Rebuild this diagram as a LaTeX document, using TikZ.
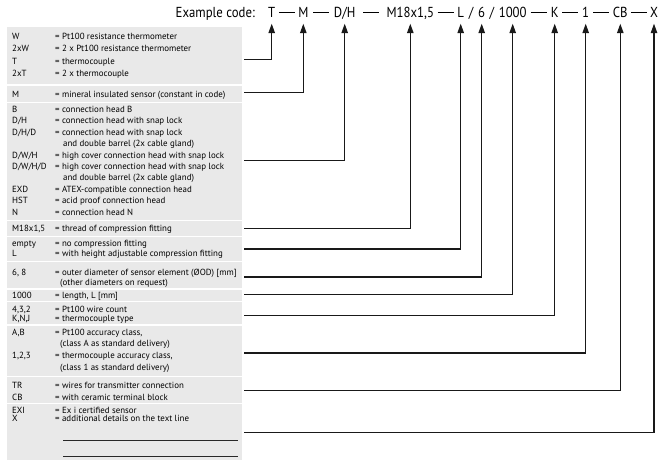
\documentclass[tikz,border=0pt]{standalone}
\usepackage{fontspec}
\setmainfont{PT Sans}
\newfontfamily\codefont{PT Sans}[FakeStretch=0.88]
\usetikzlibrary{arrows.meta,calc}
\definecolor{boxgray}{RGB}{233,233,233}
\definecolor{lineblk}{RGB}{25,25,25}
\definecolor{blankline}{RGB}{40,40,40}
\newcommand\krow[4]{%
  \node[key] (#1c) at (12,#2) {#3};
  \node[key] (#1d) at (55,#2) {#4};}
\newcommand\kcont[3]{\node[key] (#1) at (#2) {#3};}
\newcommand\cdash{\rule[4.6pt]{16pt}{1.1pt}}
\begin{document}
\begin{tikzpicture}[x=1pt,y=-1pt,
  code/.style={font=\codefont\fontsize{14.5}{18}\selectfont, inner sep=0pt, text depth=0pt, anchor=base},
  sepmark/.style={font=\codefont\fontsize{14.5}{18}\selectfont, inner sep=0pt, anchor=base},
  key/.style={font=\fontsize{8.9}{10}\selectfont, inner sep=0pt, anchor=base west},
  conn/.style={draw=lineblk, line width=1.1pt, -{Triangle[length=9.5pt,width=6.5pt]}, shorten >=6pt},
  gap/.style={draw=white, line width=1.5pt},
]
\useasboundingbox (0,0) rectangle (664,471);
\fill[white] (0,0) rectangle (664,471);
% grey key box
\fill[boxgray] (7,27) rectangle (242,460);
\foreach \yy in {85,102.5,220.5,236.5,261.5,289,301.7,325,376.7,403.3}
  \draw[gap] (7,\yy) -- (242,\yy);
% code line
\node[code, anchor=base east] (ex) at (255,17.5) {Example code:};
\node[code] (cT) at (271.7,17.5) {T};
\node[code] (cM) at (303.3,17.5) {M};
\node[code] (cDH) at (344.7,17.5) {D/H};
\node[code] (cMt) at (410.3,17.5) {M18x1,5};
\node[code] (cL) at (460.7,17.5) {L};
\node[code] (c6) at (481.7,17.5) {6};
\node[code] (cLen) at (512.7,17.5) {1000};
\node[code] (cK) at (554.7,17.5) {K};
\node[code] (cOne) at (585.7,17.5) {1};
\node[code] (cCB) at (620.3,17.5) {CB};
\node[code] (cX) at (654,17.5) {X};
\node[sepmark] (s1) at ($(cT.base east)!0.5!(cM.base west)$) {\cdash};
\node[sepmark] (s2) at ($(cM.base east)!0.5!(cDH.base west)$) {\cdash};
\node[sepmark] (s3) at ($(cDH.base east)!0.5!(cMt.base west)$) {\cdash};
\node[sepmark] (s4) at ($(cMt.base east)!0.5!(cL.base west)$) {\cdash};
\node[sepmark] (s5) at ($(cL.base east)!0.5!(c6.base west)$) {/};
\node[sepmark] (s6) at ($(c6.base east)!0.5!(cLen.base west)$) {/};
\node[sepmark] (s7) at ($(cLen.base east)!0.5!(cK.base west)$) {\cdash};
\node[sepmark] (s8) at ($(cK.base east)!0.5!(cOne.base west)$) {\cdash};
\node[sepmark] (s9) at ($(cOne.base east)!0.5!(cCB.base west)$) {\cdash};
\node[sepmark] (s10) at ($(cCB.base east)!0.5!(cX.base west)$) {\cdash};
% key rows
\krow{a1}{39}{W}{= Pt100 resistance thermometer}
\krow{a2}{51.6}{2xW}{= 2 x Pt100 resistance thermometer}
\krow{a3}{64.2}{T}{= thermocouple}
\krow{a4}{76.8}{2xT}{= 2 x thermocouple}
\krow{b1}{97}{M}{= mineral insulated sensor (constant in code)}
\krow{c1}{112.5}{B}{= connection head B}
\krow{c2}{123.9}{D/H}{= connection head with snap lock}
\krow{c3}{135.3}{D/H/D}{= connection head with snap lock}
\kcont{c3x}{63,146.7}{and double barrel (2x cable gland)}
\krow{c4}{158.1}{D/W/H}{= high cover connection head with snap lock}
\krow{c5}{169.5}{D/W/H/D}{= high cover connection head with snap lock}
\kcont{c5x}{63,180.9}{and double barrel (2x cable gland)}
\krow{c6}{192.3}{EXD}{= ATEX-compatible connection head}
\krow{c7}{203.7}{HST}{= acid proof connection head}
\krow{c8}{215.1}{N}{= connection head N}
\krow{d1}{231.5}{M18x1,5}{= thread of compression fitting}
\krow{e1}{246.5}{empty}{= no compression fitting}
\krow{e2}{256.5}{L}{= with height adjustable compression fitting}
\krow{f1}{275.5}{6, 8}{= outer diameter of sensor element (ØOD) [mm]}
\kcont{f1x}{60,285.5}{(other diameters on request)}
\krow{g1}{298.5}{1000}{= length, L [mm]}
\krow{h1}{312.5}{4,3,2}{= Pt100 wire count}
\krow{h2}{321.5}{K,N,J}{= thermocouple type}
\krow{i1}{335}{A,B}{= Pt100 accuracy class,}
\kcont{i1x}{60,346.7}{(class A as standard delivery)}
\krow{i2}{358.4}{1,2,3}{= thermocouple accuracy class,}
\kcont{i2x}{60,370.1}{(class 1 as standard delivery)}
\krow{j1}{388}{TR}{= wires for transmitter connection}
\krow{j2}{400}{CB}{= with ceramic terminal block}
\krow{k1}{413}{EXI}{= Ex i certified sensor}
\krow{k2}{421.5}{X}{= additional details on the text line}
\coordinate (bl1a) at (63,440); \coordinate (bl1b) at (238,440);
\coordinate (bl2a) at (63,456.7); \coordinate (bl2b) at (238,456.7);
\draw[blankline, line width=0.9pt] (bl1a) -- (bl1b);
\draw[blankline, line width=0.9pt] (bl2a) -- (bl2b);
% connector start points
\coordinate (pT) at (244,59.3);
\coordinate (pM) at (244,92.7);
\coordinate (pDH) at (244,160.7);
\coordinate (pMt) at (244,228.3);
\coordinate (pL) at (244,249);
\coordinate (p6) at (244,277);
\coordinate (pLen) at (244,294.7);
\coordinate (pK) at (244,315.3);
\coordinate (pOne) at (244,353);
\coordinate (pCB) at (244,390.3);
\coordinate (pX) at (244,432.3);
\draw[conn] (pT) -| (cT.south);
\draw[conn] (pM) -| (cM.south);
\draw[conn] (pDH) -| (cDH.south);
\draw[conn] (pMt) -| (cMt.south);
\draw[conn] (pL) -| (cL.south);
\draw[conn] (p6) -| (c6.south);
\draw[conn] (pLen) -| (cLen.south);
\draw[conn] (pK) -| (cK.south);
\draw[conn] (pOne) -| (cOne.south);
\draw[conn] (pCB) -| (cCB.south);
\draw[conn] (pX) -| (cX.south);
\end{tikzpicture}
\end{document}
